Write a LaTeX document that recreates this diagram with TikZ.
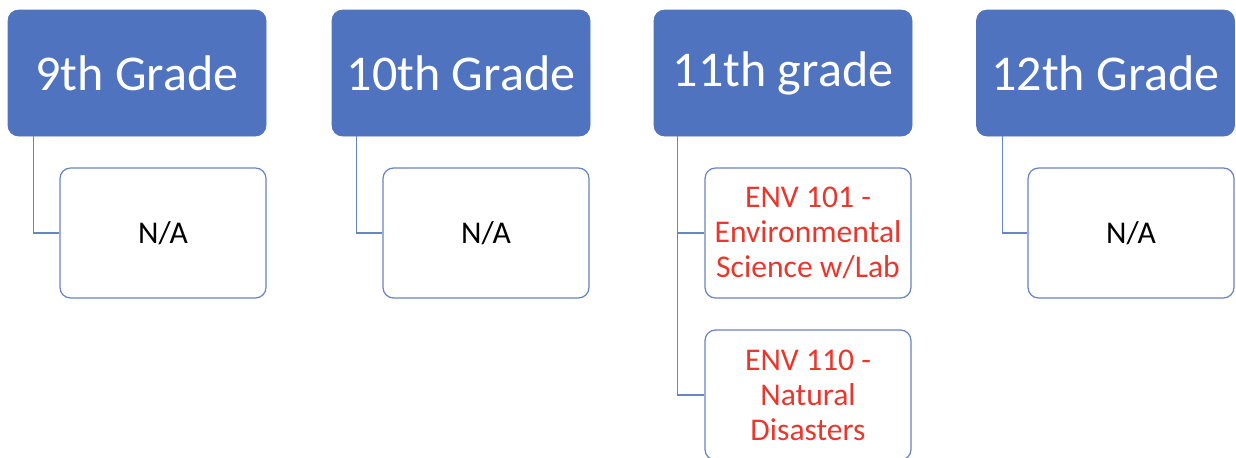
\documentclass[tikz,border=0pt]{standalone}
\usepackage{fontspec}
\setmainfont{Carlito}
\usetikzlibrary{calc,positioning}
\definecolor{gradeblue}{RGB}{79,115,190}
\definecolor{lineblue}{RGB}{104,132,196}
\definecolor{coursered}{RGB}{232,56,46}

\begin{document}
\begin{tikzpicture}
  \useasboundingbox (0,0) rectangle (24.72,-9.14);
  \clip (0,0) rectangle (24.72,-9.14);

  \tikzstyle{gnode} = [fill=gradeblue, draw=gradeblue, rounded corners = 6pt, minimum width = 5.16cm, minimum height = 2.52cm, text=white, font=\fontsize{28.5}{34}\selectfont]
  \tikzstyle{cnode} = [fill=white, draw=lineblue, line width=0.7pt, rounded corners = 6pt, minimum width = 4.12cm, minimum height = 2.6cm, align=center, font=\fontsize{18}{20}\selectfont]
  \tikzstyle{link} = [draw=lineblue, line width=0.7pt]

  % grade headers
  \node[gnode] (g9) at (2.74,-1.46) {9th Grade};
  \node[gnode] (g10) at (9.22,-1.46) {10th Grade};
  \node[gnode] (g11) at (15.66,-1.46) {11th grade};
  \node[gnode] (g12) at (22.11,-1.46) {12th Grade};

  % courses
  \node[cnode] (c9) at (3.26,-4.66) {N/A};
  \node[cnode] (c10) at (9.72,-4.66) {N/A};
  \node[cnode, text=coursered] (c11a) at (16.16,-4.66) {ENV 101 -\\Environmental\\Science w/Lab};
  \node[cnode, text=coursered] (c11b) at (16.16,-7.9) {ENV 110 -\\Natural\\Disasters};
  \node[cnode] (c12) at (22.62,-4.66) {N/A};

  \draw[link] ([xshift=0.52cm]g9.south west) |- (c9.west);
  \draw[link] ([xshift=0.5cm]g10.south west) |- (c10.west);
  \draw[link] ([xshift=0.48cm]g11.south west) |- (c11a.west);
  \draw[link] ([xshift=0.48cm]g11.south west) |- (c11b.west);
  \draw[link] ([xshift=0.52cm]g12.south west) |- (c12.west);

\end{tikzpicture}
\end{document}
